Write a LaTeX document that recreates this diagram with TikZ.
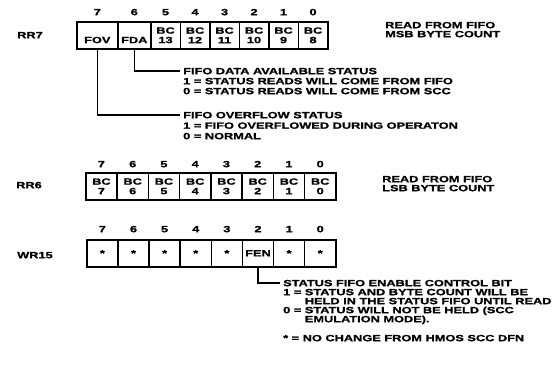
\documentclass[tikz,border=0pt]{standalone}
\usepackage{fontspec}
\newfontfamily\lbl{Liberation Sans}[FakeStretch=1.42, FakeBold=1.2]
\newcommand{\zfont}{\lbl\bfseries\fontsize{9}{9.5}\selectfont}
\begin{document}
\begin{tikzpicture}[x=1pt,y=-1pt,
  cellbox/.style={draw, line width=1.6pt, minimum height=27pt, inner sep=0pt,
    anchor=north west, align=center, font=\zfont},
  bitlbl/.style={inner sep=0pt, font=\zfont, text height=6.4pt, text depth=0pt},
  desc/.style={anchor=west, inner sep=0pt, font=\zfont, text height=6.4pt, text depth=0pt},
  conn/.style={line width=1.4pt}]
\useasboundingbox (0,0) rectangle (557,368);
% ---------------- RR7
\node[desc] (l7) at (17,35) {RR7};
\node[cellbox, minimum width=41pt] (r7c7) at (76,21) {\phantom{X}\\FOV};
\node[cellbox, minimum width=33pt] (r7c6) at (117,21) {\phantom{X}\\FDA};
\foreach \i in {5,...,0}{
  \pgfmathtruncatemacro{\n}{\i+8}
  \node[cellbox, minimum width=29.5pt] (r7c\i) at ({150+(5-\i)*29.5},21) {BC\\\n};
}
\foreach \i in {7,...,0}{
  \path (r7c\i.north) ++(0,-9) node[bitlbl] (r7b\i) {\i};
}
\node[desc] (h7a) at (385,25) {READ FROM FIFO};
\node[desc] (h7b) at (385,34) {MSB BYTE COUNT};
\node[desc] (fda1) at (183,71) {FIFO DATA AVAILABLE STATUS};
\node[desc] (fda2) at (183,81) {1 = STATUS READS WILL COME FROM FIFO};
\node[desc] (fda3) at (183,91) {0 = STATUS READS WILL COME FROM SCC};
\node[desc] (fov1) at (183,115) {FIFO OVERFLOW STATUS};
\node[desc] (fov2) at (183,125.5) {1 = FIFO OVERFLOWED DURING OPERATON};
\node[desc] (fov3) at (183,136) {0 = NORMAL};
\draw[conn] (r7c6.south) |- ([xshift=-3pt]fda1.west);
\draw[conn] (r7c7.south) |- ([xshift=-3pt]fov1.west);
% ---------------- RR6
\node[desc] (l6) at (16,185) {RR6};
\foreach \i in {7,...,0}{
  \node[cellbox, minimum width=31.25pt] (r6c\i) at ({85+(7-\i)*31.25},172) {BC\\\i};
  \path (r6c\i.north) ++(0,-8) node[bitlbl] (r6b\i) {\i};
}
\node[desc] (h6a) at (382,179) {READ FROM FIFO};
\node[desc] (h6b) at (382,188) {LSB BYTE COUNT};
% ---------------- WR15
\node[desc] (l15) at (17,255) {WR15};
\foreach \i in {7,...,0}{
  \ifnum\i=2
    \node[cellbox, minimum width=31.125pt] (w15c\i) at ({86+(7-\i)*31.125},239) {FEN};
  \else
    \node[cellbox, minimum width=31.125pt] (w15c\i) at ({86+(7-\i)*31.125},239) {\raisebox{-2.5pt}{*}};
  \fi
  \path (w15c\i.north) ++(0,-10) node[bitlbl] (w15b\i) {\i};
}
\node[desc] (fen1) at (283,283) {STATUS FIFO ENABLE CONTROL BIT};
\node[desc] (fen2) at (283,292) {1 = STATUS AND BYTE COUNT WILL BE};
\node[desc] (fen3) at (283,301) {\hphantom{1 =\ }HELD IN THE STATUS FIFO UNTIL READ};
\node[desc] (fen4) at (283,310) {0 = STATUS WILL NOT BE HELD (SCC};
\node[desc] (fen5) at (283,319) {\hphantom{0 =\ }EMULATION MODE).};
\node[desc] (foot) at (283,338) {* = NO CHANGE FROM HMOS SCC DFN};
\draw[conn] (w15c2.south) |- ([xshift=-3pt]fen1.west);
\end{tikzpicture}
\end{document}
